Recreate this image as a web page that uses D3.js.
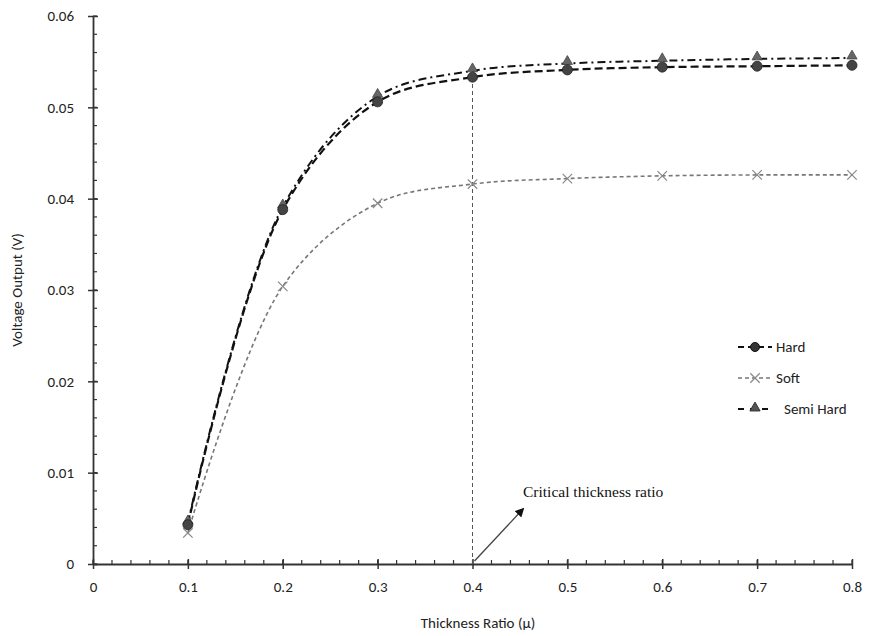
<!DOCTYPE html>
<html><head><meta charset="utf-8">
<script src="https://cdn.jsdelivr.net/npm/d3@7/dist/d3.min.js"></script>
<style>body{margin:0;background:#fff}svg{display:block}</style>
</head><body>
<svg id="c" width="878" height="636"></svg>
<script>
const thickness = [0.1,0.2,0.3,0.4,0.5,0.6,0.7,0.8];
const hard     = [0.0043,0.0388,0.0506,0.0533,0.0541,0.0544,0.0545,0.0546];
const soft     = [0.0034,0.0304,0.0395,0.0416,0.0422,0.0425,0.0426,0.0426];
const semiHard = [0.0045,0.0391,0.0512,0.0540,0.0548,0.0551,0.0553,0.0554];
const xTicks = [0,0.1,0.2,0.3,0.4,0.5,0.6,0.7,0.8];
const yTicks = [0,0.01,0.02,0.03,0.04,0.05,0.06];
const criticalX = 0.4;

const svg = d3.select("#c");
const x = d3.scaleLinear().domain([0,0.8]).range([93,852]);
const y = d3.scaleLinear().domain([0,0.06]).range([564,16]);
const font = "Carlito, 'Open Sans', 'Noto Sans', sans-serif";
const axisCol = "#333";
const fs = 15;

// minor ticks
const xMinor = d3.range(0,0.8001,0.02);
const yMinor = d3.range(0,0.0601,0.002);
svg.append("g").selectAll("line").data(xMinor).join("line")
  .attr("x1",d=>x(d)).attr("x2",d=>x(d)).attr("y1",y(0)-4).attr("y2",y(0))
  .attr("stroke",axisCol).attr("stroke-width",1.2);
svg.append("g").selectAll("line").data(yMinor).join("line")
  .attr("x1",x(0)).attr("x2",x(0)+4).attr("y1",d=>y(d)).attr("y2",d=>y(d))
  .attr("stroke",axisCol).attr("stroke-width",1.2);

// axes
const xAxis = svg.append("g").attr("transform",`translate(0,${y(0)})`)
  .call(d3.axisBottom(x).tickValues(xTicks).tickFormat(d=>d===0?"0":d3.format(".1f")(d)).tickSizeInner(5).tickSizeOuter(0).tickPadding(12));
const yAxis = svg.append("g").attr("transform",`translate(${x(0)},0)`)
  .call(d3.axisLeft(y).tickValues(yTicks).tickFormat(d=>d===0?"0":d3.format(".2f")(d)).tickSizeInner(5).tickSizeOuter(0).tickPadding(14));
[xAxis,yAxis].forEach(g=>{
  g.select(".domain").attr("stroke",axisCol).attr("stroke-width",1.8);
  g.selectAll(".tick line").attr("stroke",axisCol).attr("stroke-width",1.5);
  g.selectAll("text").attr("font-family",font).attr("font-size",fs).attr("fill","#222");
});
xAxis.selectAll(".tick line").attr("y1",-5);
yAxis.selectAll(".tick line").attr("x1",5);

// axis titles
svg.append("text").attr("x",478).attr("y",628).attr("text-anchor","middle")
  .attr("font-family",font).attr("font-size",fs).attr("fill","#222").text("Thickness Ratio (μ)");
svg.append("text").attr("transform","translate(22,290) rotate(-90)").attr("text-anchor","middle")
  .attr("font-family",font).attr("font-size",fs).attr("fill","#222").text("Voltage Output (V)");

// critical line
svg.append("line").attr("x1",x(criticalX)).attr("x2",x(criticalX))
  .attr("y1",y(0)).attr("y2",y(hard[3]))
  .attr("stroke","#555").attr("stroke-width",1).attr("stroke-dasharray","4,3");

const line = d3.line().x((d,i)=>x(thickness[i])).y(d=>y(d)).curve(d3.curveCatmullRom.alpha(0.5));

svg.append("path").attr("d",line(soft)).attr("fill","none")
  .attr("stroke","#777").attr("stroke-width",1.6).attr("stroke-dasharray","4,3");
svg.append("path").attr("d",line(semiHard)).attr("fill","none")
  .attr("stroke","#111").attr("stroke-width",2).attr("stroke-dasharray","8,4,2,4");
svg.append("path").attr("d",line(hard)).attr("fill","none")
  .attr("stroke","#111").attr("stroke-width",2.2).attr("stroke-dasharray","8,4");

// markers
const tri = d3.symbol().type(d3.symbolTriangle).size(45);
svg.append("g").selectAll("path").data(semiHard).join("path")
  .attr("d",tri).attr("transform",(d,i)=>`translate(${x(thickness[i])},${y(d)-2})`)
  .attr("fill","#666").attr("stroke","#444").attr("stroke-width",0.8);
svg.append("g").selectAll("circle").data(hard).join("circle")
  .attr("cx",(d,i)=>x(thickness[i])).attr("cy",d=>y(d)).attr("r",5)
  .attr("fill","#444").attr("stroke","#222").attr("stroke-width",0.8);
const cross = d3.symbol().type(d3.symbolX).size(60);
svg.append("g").selectAll("path").data(soft).join("path")
  .attr("d",cross).attr("transform",(d,i)=>`translate(${x(thickness[i])},${y(d)})`)
  .attr("fill","none").attr("stroke","#888").attr("stroke-width",1.2);

// arrow annotation
svg.append("defs").append("marker").attr("id","ah").attr("viewBox","0 0 10 10")
  .attr("refX",8).attr("refY",5).attr("markerWidth",7).attr("markerHeight",7).attr("orient","auto")
  .append("path").attr("d","M0,0L10,5L0,10Z").attr("fill","#111");
svg.append("line").attr("x1",x(criticalX)+2).attr("y1",y(0)-3).attr("x2",523).attr("y2",509)
  .attr("stroke","#444").attr("stroke-width",1.3).attr("marker-end","url(#ah)");
svg.append("text").attr("x",523).attr("y",497).attr("font-family","'Liberation Serif','Times New Roman',serif")
  .attr("font-size",15.5).attr("fill","#111").text("Critical thickness ratio");

// legend
const legend = [
  {name:"Hard", dash:"6,4", col:"#111", w:2.2, m:"circle"},
  {name:"Soft", dash:"4,3", col:"#777", w:1.6, m:"x"},
  {name:"Semi Hard", dash:"6,6", col:"#111", w:2, m:"tri"}
];
const lg = svg.append("g").selectAll("g").data(legend).join("g")
  .attr("transform",(d,i)=>`translate(738,${347+i*31})`);
lg.append("line").attr("x1",0).attr("x2",34).attr("y1",0).attr("y2",0)
  .attr("stroke",d=>d.col).attr("stroke-width",d=>d.w).attr("stroke-dasharray",d=>d.dash);
lg.each(function(d){
  const g = d3.select(this);
  if(d.m==="circle") g.append("circle").attr("cx",17).attr("cy",0).attr("r",4.5).attr("fill","#333").attr("stroke","#111");
  else if(d.m==="x") g.append("path").attr("d",cross).attr("transform","translate(17,0)").attr("stroke","#888").attr("stroke-width",1.2).attr("fill","none");
  else g.append("path").attr("d",tri).attr("transform","translate(17,-1)").attr("fill","#555").attr("stroke","#333");
});
lg.append("text").attr("x",d=>d.name==="Semi Hard"?46:38).attr("y",5).attr("font-family",font)
  .attr("font-size",fs).attr("fill","#222").text(d=>d.name);
</script>
</body></html>
